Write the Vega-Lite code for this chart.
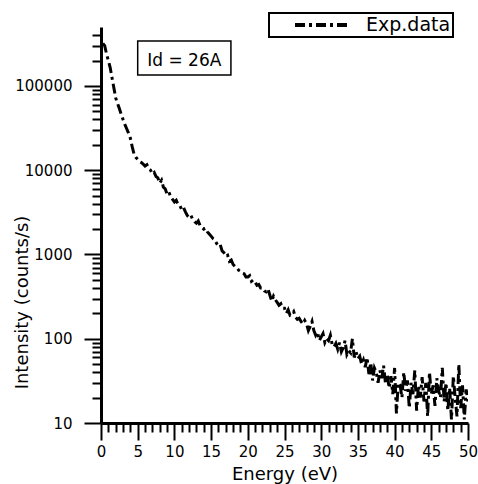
{
"$schema": "https://vega.github.io/schema/vega-lite/v6.json",
"width": 367,
"height": 396,
"autosize": {"type": "none"},
"padding": {"left": 101, "top": 27, "right": 10, "bottom": 61},
"background": "white",
"config": {"font": "DejaVu Sans", "view": {"stroke": null}, "legend": {"strokeWidth": 2},
 "axis": {"tickWidth": 2, "tickColor": "black", "domainColor": "black", "domainWidth": 3,
  "labelFont": "DejaVu Sans", "labelFontSize": 15, "labelColor": "black",
  "labelOverlap": false, "labelBound": false, "grid": false,
  "titleFont": "DejaVu Sans", "titleFontSize": 18, "titleFontWeight": "normal", "titleColor": "black"}},
"layer": [
{
"data": {"values": [
{"E":0.25,"I":320000},{"E":0.5,"I":300000},{"E":0.75,"I":240000},{"E":1,"I":200000},{"E":1.25,"I":165000},
{"E":1.5,"I":125000},{"E":1.75,"I":95000},{"E":2,"I":72000},{"E":2.25,"I":62000},{"E":2.5,"I":54000},
{"E":2.75,"I":46000},{"E":3,"I":40000},{"E":3.25,"I":35000},{"E":3.5,"I":31000},{"E":3.75,"I":27500},
{"E":4,"I":24000},{"E":4.25,"I":19000},{"E":4.5,"I":15500},{"E":4.75,"I":14200},{"E":5,"I":13400},
{"E":5.25,"I":12600},{"E":5.5,"I":12300},{"E":5.75,"I":11800},{"E":6,"I":11200},{"E":6.25,"I":11600},
{"E":6.5,"I":10400},{"E":6.75,"I":10000},{"E":7,"I":9000},{"E":7.25,"I":9400},{"E":7.5,"I":8400},
{"E":7.75,"I":8100},{"E":8,"I":7000},{"E":8.25,"I":7600},{"E":8.5,"I":6300},{"E":8.75,"I":6000},
{"E":9,"I":5200},{"E":9.25,"I":5500},{"E":9.5,"I":4800},{"E":9.75,"I":4500},{"E":10,"I":4200},
{"E":10.25,"I":4400},{"E":10.5,"I":3900},{"E":10.75,"I":3800},{"E":11,"I":3400},{"E":11.25,"I":3600},
{"E":11.5,"I":3200},{"E":11.75,"I":2900},{"E":12,"I":2750},{"E":12.25,"I":2900},{"E":12.5,"I":2600},
{"E":12.75,"I":2450},{"E":13,"I":2350},{"E":13.25,"I":2500},{"E":13.5,"I":2200},{"E":13.75,"I":2100},
{"E":14,"I":2000},{"E":14.25,"I":2050},{"E":14.5,"I":1850},{"E":14.75,"I":1750},{"E":15,"I":1650},
{"E":15.25,"I":1550},{"E":15.5,"I":1500},{"E":15.75,"I":1350},{"E":16,"I":1260},{"E":16.25,"I":1300},
{"E":16.5,"I":1100},{"E":16.75,"I":1050},{"E":17,"I":950},{"E":17.25,"I":980},{"E":17.5,"I":830},
{"E":17.75,"I":860},{"E":18,"I":760},{"E":18.25,"I":720},{"E":18.5,"I":700},{"E":18.75,"I":650},
{"E":19,"I":630},{"E":19.25,"I":600},{"E":19.5,"I":590},{"E":19.75,"I":540},{"E":20,"I":540},
{"E":20.25,"I":560},{"E":20.5,"I":480},{"E":20.75,"I":500},{"E":21,"I":470},{"E":21.25,"I":430},
{"E":21.5,"I":440},{"E":21.75,"I":400},{"E":22,"I":400},{"E":22.25,"I":370},{"E":22.5,"I":360},
{"E":22.75,"I":390},{"E":23,"I":330},{"E":23.25,"I":280},{"E":23.5,"I":320},{"E":23.75,"I":290},
{"E":24,"I":270},{"E":24.25,"I":250},{"E":24.5,"I":260},{"E":24.75,"I":230},{"E":25,"I":230},
{"E":25.25,"I":200},{"E":25.5,"I":220},{"E":25.75,"I":190},{"E":26,"I":195},{"E":26.25,"I":210},
{"E":26.5,"I":180},{"E":26.75,"I":170},{"E":27,"I":175},{"E":27.25,"I":160},{"E":27.5,"I":150},
{"E":27.75,"I":165},{"E":28,"I":150},{"E":28.25,"I":125},{"E":28.5,"I":140},{"E":28.75,"I":160},
{"E":29,"I":125},{"E":29.25,"I":110},{"E":29.5,"I":120},{"E":29.75,"I":95},{"E":30,"I":105},
{"E":30.25,"I":115},{"E":30.5,"I":90},{"E":30.75,"I":100},{"E":31,"I":95},{"E":31.25,"I":110},
{"E":31.5,"I":85},{"E":31.75,"I":80},{"E":32,"I":88},{"E":32.25,"I":75},{"E":32.5,"I":90},
{"E":32.75,"I":70},{"E":33,"I":78},{"E":33.25,"I":95},{"E":33.5,"I":65},{"E":33.75,"I":72},
{"E":34,"I":68},{"E":34.25,"I":100},{"E":34.5,"I":60},{"E":34.75,"I":70},{"E":35,"I":58},
{"E":35.25,"I":62},{"E":35.5,"I":50},{"E":35.75,"I":56},{"E":36,"I":46},{"E":36.25,"I":60},
{"E":36.5,"I":38},{"E":36.75,"I":52},{"E":37,"I":32},{"E":37.25,"I":45},{"E":37.5,"I":40},
{"E":37.75,"I":30},{"E":38,"I":42},{"E":38.25,"I":34},{"E":38.5,"I":48},{"E":38.75,"I":30},
{"E":39,"I":38},{"E":39.25,"I":26},{"E":39.5,"I":36},{"E":39.75,"I":22},{"E":40,"I":45},
{"E":40.25,"I":13},{"E":40.5,"I":30},{"E":40.75,"I":28},{"E":41,"I":20},{"E":41.25,"I":40},
{"E":41.5,"I":24},{"E":41.75,"I":32},{"E":42,"I":15},{"E":42.25,"I":30},{"E":42.5,"I":22},
{"E":42.75,"I":42},{"E":43,"I":14},{"E":43.25,"I":28},{"E":43.5,"I":20},{"E":43.75,"I":35},
{"E":44,"I":18},{"E":44.25,"I":30},{"E":44.5,"I":12},{"E":44.75,"I":40},{"E":45,"I":22},
{"E":45.25,"I":28},{"E":45.5,"I":16},{"E":45.75,"I":34},{"E":46,"I":24},{"E":46.25,"I":20},
{"E":46.5,"I":45},{"E":46.75,"I":18},{"E":47,"I":30},{"E":47.25,"I":14},{"E":47.5,"I":26},
{"E":47.75,"I":11},{"E":48,"I":36},{"E":48.25,"I":20},{"E":48.5,"I":12},{"E":48.75,"I":50},
{"E":49,"I":15},{"E":49.25,"I":28},{"E":49.5,"I":11},{"E":49.75,"I":25},{"E":50,"I":18}
]},
"mark": {"type": "line", "color": "black", "strokeWidth": 3, "clip": true},
"encoding": {
"x": {"field": "E", "type": "quantitative",
 "scale": {"domain": [0, 50], "nice": false, "zero": false},
 "axis": {"title": "Energy (eV)",
  "values": [0,1,2,3,4,5,6,7,8,9,10,11,12,13,14,15,16,17,18,19,20,21,22,23,24,25,26,27,28,29,30,31,32,33,34,35,36,37,38,39,40,41,42,43,44,45,46,47,48,49,50],
  "labelExpr": "datum.value % 5 === 0 ? datum.label : ''",
  "tickSize": {"condition": {"test": "datum.value % 5 === 0", "value": 17}, "value": 9},
  "labelPadding": 4, "labelFlush": false, "titleBaseline": "alphabetic", "titleY": 56}},
"y": {"field": "I", "type": "quantitative",
 "scale": {"type": "log", "domain": [10, 500000], "nice": false},
 "axis": {"title": "Intensity (counts/s)",
  "values": [10,20,30,40,50,60,70,80,90,100,200,300,400,500,600,700,800,900,1000,2000,3000,4000,5000,6000,7000,8000,9000,10000,20000,30000,40000,50000,60000,70000,80000,90000,100000,200000,300000,400000],
  "format": "d",
  "labelExpr": "abs(log(datum.value)/LN10 - round(log(datum.value)/LN10)) < 0.0001 ? datum.label : ''",
  "tickSize": {"condition": {"test": "abs(log(datum.value)/LN10 - round(log(datum.value)/LN10)) < 0.0001", "value": 17}, "value": 9},
  "labelPadding": 12, "titleAngle": -90, "titleAlign": "center", "titleBaseline": "alphabetic", "titleX": -74, "titleY": 275}},
"strokeDash": {"datum": "Exp.data", "scale": {"range": [[10, 4, 3, 4]]},
 "legend": {"title": null, "orient": "none", "legendX": 168, "legendY": -14,
  "symbolType": "stroke", "symbolSize": 3025, "symbolStrokeWidth": 4, "symbolStrokeColor": "black",
  "symbolOffset": 22, "labelOffset": 14, "labelFont": "DejaVu Sans", "labelFontSize": 19, "labelColor": "black",
  "labelLimit": 300, "strokeColor": "black", "fillColor": "white", "padding": 2, "clipHeight": 20}}
}
},
{
"data": {"values": [{}]},
"mark": {"type": "rect", "fill": "white", "stroke": "black", "strokeWidth": 1.5},
"encoding": {
"x": {"datum": 5.0, "type": "quantitative",
 "axis": {"title": "Energy (eV)",
  "values": [0,1,2,3,4,5,6,7,8,9,10,11,12,13,14,15,16,17,18,19,20,21,22,23,24,25,26,27,28,29,30,31,32,33,34,35,36,37,38,39,40,41,42,43,44,45,46,47,48,49,50],
  "labelExpr": "datum.value % 5 === 0 ? datum.label : ''",
  "tickSize": {"condition": {"test": "datum.value % 5 === 0", "value": 17}, "value": 9},
  "labelPadding": 4, "labelFlush": false, "titleBaseline": "alphabetic", "titleY": 56}},
"x2": {"datum": 17.7},
"y": {"datum": 342000, "type": "quantitative",
 "axis": {"title": "Intensity (counts/s)",
  "values": [10,20,30,40,50,60,70,80,90,100,200,300,400,500,600,700,800,900,1000,2000,3000,4000,5000,6000,7000,8000,9000,10000,20000,30000,40000,50000,60000,70000,80000,90000,100000,200000,300000,400000],
  "format": "d",
  "labelExpr": "abs(log(datum.value)/LN10 - round(log(datum.value)/LN10)) < 0.0001 ? datum.label : ''",
  "tickSize": {"condition": {"test": "abs(log(datum.value)/LN10 - round(log(datum.value)/LN10)) < 0.0001", "value": 17}, "value": 9},
  "labelPadding": 12, "titleAngle": -90, "titleAlign": "center", "titleBaseline": "alphabetic", "titleX": -74, "titleY": 275}},
"y2": {"datum": 135000}
}
},
{
"data": {"values": [{}]},
"mark": {"type": "text", "font": "DejaVu Sans", "fontSize": 17, "color": "black", "align": "center", "baseline": "middle"},
"encoding": {
"x": {"datum": 11.35, "type": "quantitative",
 "axis": {"title": "Energy (eV)",
  "values": [0,1,2,3,4,5,6,7,8,9,10,11,12,13,14,15,16,17,18,19,20,21,22,23,24,25,26,27,28,29,30,31,32,33,34,35,36,37,38,39,40,41,42,43,44,45,46,47,48,49,50],
  "labelExpr": "datum.value % 5 === 0 ? datum.label : ''",
  "tickSize": {"condition": {"test": "datum.value % 5 === 0", "value": 17}, "value": 9},
  "labelPadding": 4, "labelFlush": false, "titleBaseline": "alphabetic", "titleY": 56}},
"y": {"datum": 200000, "type": "quantitative",
 "axis": {"title": "Intensity (counts/s)",
  "values": [10,20,30,40,50,60,70,80,90,100,200,300,400,500,600,700,800,900,1000,2000,3000,4000,5000,6000,7000,8000,9000,10000,20000,30000,40000,50000,60000,70000,80000,90000,100000,200000,300000,400000],
  "format": "d",
  "labelExpr": "abs(log(datum.value)/LN10 - round(log(datum.value)/LN10)) < 0.0001 ? datum.label : ''",
  "tickSize": {"condition": {"test": "abs(log(datum.value)/LN10 - round(log(datum.value)/LN10)) < 0.0001", "value": 17}, "value": 9},
  "labelPadding": 12, "titleAngle": -90, "titleAlign": "center", "titleBaseline": "alphabetic", "titleX": -74, "titleY": 275}},
"text": {"value": "Id = 26A"}
}
}
]
}
